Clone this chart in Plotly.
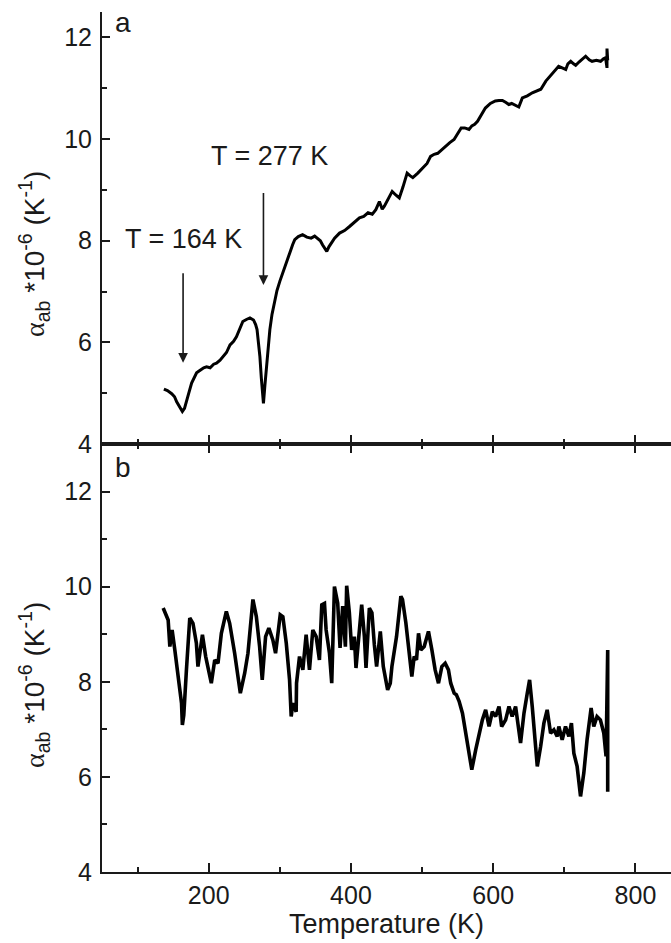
import plotly.graph_objects as go

# ---- data ----
top_T = [137,142,148,152,155,159,163,166,169,172,176,179,183,188,193,197,202,207,211,216,
         220,225,230,235,239,244,248,253,258,263,266,268,270,272,274,276,277,279,281,283,
         286,289,293,296,300,304,307,311,314,318,321,326,332,338,344,349,353,357,360,363,
         366,369,372,377,384,391,398,405,412,418,424,430,435,440,444,447,452,458,463,468,
         473,479,483,487,494,501,507,512,517,522,528,533,539,545,550,555,560,566,570,574,
         578,584,589,596,603,608,613,618,622,626,629,633,636,641,648,655,661,667,674,679,
         683,688,692,697,702,705,709,713,716,721,726,730,735,739,745,751,755,758,760,760,761]
top_a = [5.08,5.05,4.99,4.93,4.83,4.72,4.64,4.70,4.83,5.00,5.20,5.30,5.40,5.45,5.50,5.52,5.50,5.57,5.59,5.65,
         5.72,5.80,5.95,6.02,6.11,6.28,6.41,6.45,6.48,6.44,6.35,6.25,6.02,5.72,5.30,4.87,4.80,5.15,5.46,5.85,
         6.25,6.55,6.84,7.02,7.20,7.35,7.46,7.62,7.76,7.92,8.02,8.08,8.12,8.07,8.05,8.09,8.05,8.00,7.92,7.85,
         7.79,7.88,7.95,8.05,8.15,8.20,8.28,8.36,8.45,8.48,8.55,8.52,8.61,8.77,8.62,8.68,8.80,8.97,8.90,8.84,
         9.05,9.33,9.28,9.24,9.33,9.43,9.52,9.66,9.70,9.72,9.80,9.86,9.93,9.99,10.10,10.22,10.22,10.19,10.26,10.29,
         10.35,10.48,10.61,10.70,10.75,10.76,10.76,10.72,10.68,10.70,10.68,10.65,10.63,10.81,10.85,10.91,10.95,10.98,11.14,11.22,
         11.30,11.38,11.43,11.40,11.37,11.48,11.53,11.48,11.45,11.52,11.58,11.63,11.56,11.53,11.55,11.53,11.58,11.60,11.40,11.78,11.55]

bot_T = [136,140.7,143,145.4,148.6,152.4,157,161.8,163,165,168.7,173.4,177.9,182.7,184.9,188,191.2,195.8,201.5,203.7,
         208.5,213.1,217.8,224.8,229.5,236.5,244.5,250.6,255.2,262.2,267,271.6,275.3,280,284.6,290.2,294,300.6,304.3,309.1,
         313.7,316,318.3,323,323.5,327.7,332.4,337,341.7,346.4,351.1,355.7,359,362.8,365.1,369.8,373,376.8,381.4,384.7,
         388.4,392.2,394,397.8,401,404.8,407.1,410.9,415.1,418.9,421.2,425.9,429.5,432.9,436.1,441.3,445.5,451.6,455.3,457.6,
         464.1,470.2,472.5,477.2,481.8,485.6,488.9,492.2,495,498.3,503,509,513.8,518.4,523.1,527.8,532.5,537.1,540.3,545.1,
         548.2,552.1,556.8,561.5,566.1,569.9,575.4,580.1,584.8,589.4,594.2,598.8,603.4,608.2,611.9,617.5,622.2,626.7,631.5,638.5,
         643.3,647.9,651.2,654.9,659.7,662,666.7,671.3,675.9,680.7,685.3,690,692.3,697,701.7,706.4,710,713.4,718,722.8,
         727.4,732,737.7,741.4,746,750.7,755.5,758.7,761,761]
bot_a = [9.55,9.41,9.30,8.74,9.09,8.67,8.18,7.55,7.09,7.30,8.25,9.34,9.23,8.81,8.32,8.70,8.99,8.53,8.18,7.97,
         8.46,8.39,9.02,9.48,9.23,8.60,7.76,8.18,8.60,9.73,9.37,8.74,8.04,8.95,9.13,8.88,8.60,9.41,9.37,8.81,
         8.04,7.27,7.55,7.37,7.97,8.53,8.25,8.99,8.25,9.09,8.95,8.46,9.62,9.65,9.09,8.60,7.97,10.0,9.65,8.71,
         9.59,8.74,10.02,9.45,8.67,8.95,8.29,8.95,9.62,8.95,8.29,9.55,9.45,8.78,8.32,9.06,8.32,7.83,7.97,8.32,
         8.95,9.80,9.73,9.24,8.60,8.11,8.53,8.46,9.02,8.67,8.74,9.06,8.67,8.25,7.97,8.32,8.39,8.25,7.97,7.76,
         7.73,7.59,7.34,6.92,6.50,6.15,6.57,6.92,7.20,7.41,7.06,7.37,7.27,7.48,7.06,7.20,7.48,7.27,7.48,6.71,
         7.34,7.76,8.04,7.48,6.57,6.22,6.64,7.13,7.41,6.92,6.99,6.85,7.06,6.78,7.06,6.85,7.13,6.50,6.22,5.59,
         6.08,6.78,7.45,7.06,7.27,7.20,6.92,6.43,8.67,5.69]

mark_T = [164, 277]
mark_labels = ["T = 164 K", "T = 277 K"]
mark_text_pos = [(164, 8.04), (285, 9.66)]
mark_arrow = [(7.39, 5.60), (8.97, 7.13)]

x_range = [50, 850]
top_y_range = [4, 12.5]
bot_y_range = [4, 13]
x_ticks = [200, 400, 600, 800]
y_ticks = [4, 6, 8, 10, 12]

FONT = "Liberation Sans, Arial, sans-serif"
INK = "#1a1a1a"
FS = 25

W, H = 671, 943
ML, MR, MT, MB = 102, 0, 12, 71
PH = H - MT - MB

fig = go.Figure()
fig.add_trace(go.Scatter(x=top_T, y=top_a, mode="lines", line=dict(color="black", width=3),
                         xaxis="x", yaxis="y", showlegend=False))
fig.add_trace(go.Scatter(x=bot_T, y=bot_a, mode="lines", line=dict(color="black", width=3.6),
                         xaxis="x2", yaxis="y2", showlegend=False))

split = 428 / PH

common_x = dict(range=x_range, tickvals=x_ticks, ticks="inside", ticklen=9, tickwidth=2,
                tickcolor=INK, showline=True, linewidth=2, linecolor=INK, showgrid=False,
                zeroline=False, automargin=False,
                minor=dict(dtick=100, tick0=0, ticks="inside", ticklen=5,
                           tickwidth=2, tickcolor=INK))
common_y = dict(tickvals=y_ticks, ticks="inside", ticklen=8, tickwidth=2, tickcolor=INK,
                showline=True, linewidth=2, linecolor=INK, showgrid=False, zeroline=False,
                automargin=False, ticklabelstandoff=3,
                minor=dict(dtick=1, tick0=0, ticks="inside", ticklen=5, tickwidth=2, tickcolor=INK),
                tickfont=dict(family=FONT, size=FS, color=INK))

fig.update_layout(
    width=W, height=H, autosize=False,
    margin=dict(l=ML, r=MR, t=MT, b=MB, pad=0),
    paper_bgcolor="white", plot_bgcolor="white",
    xaxis=dict(anchor="y", domain=[0, 1], showticklabels=False, **common_x),
    yaxis=dict(anchor="x", domain=[split, 1], range=top_y_range, **common_y),
    xaxis2=dict(anchor="y2", domain=[0, 1], mirror="ticks",
                tickfont=dict(family=FONT, size=FS, color=INK),
                title=dict(text="Temperature (K)", font=dict(family=FONT, size=27, color=INK), standoff=2),
                **common_x),
    yaxis2=dict(anchor="x2", domain=[0, split], range=bot_y_range, **common_y),
)

def px_to_paper_y(py):
    return 1 - (py - MT) / PH

def px_to_paper_x(px):
    return (px - ML) / (W - ML - MR)

ytitle = ('<span style="font-family:Liberation Serif">α</span><sub>ab</sub> *10<sup>-6</sup> (K<sup>-1</sup>)')
for yc in [px_to_paper_y(254), px_to_paper_y(685)]:
    fig.add_annotation(text=ytitle, textangle=-90, xref="paper", yref="paper",
                       x=px_to_paper_x(34), y=yc, xanchor="center", yanchor="middle", showarrow=False,
                       font=dict(family=FONT, size=28, color=INK))

# panel letters
fig.add_annotation(text="a", xref="paper", yref="paper", x=px_to_paper_x(113), y=px_to_paper_y(22),
                   xanchor="left", yanchor="middle", showarrow=False,
                   font=dict(family=FONT, size=28, color=INK))
fig.add_annotation(text="b", xref="paper", yref="paper", x=px_to_paper_x(113), y=px_to_paper_y(468),
                   xanchor="left", yanchor="middle", showarrow=False,
                   font=dict(family=FONT, size=28, color=INK))

for t, lab, (tx, ty), (a0, a1) in zip(mark_T, mark_labels, mark_text_pos, mark_arrow):
    fig.add_annotation(text=lab, x=tx, y=ty, xref="x", yref="y", showarrow=False,
                       xanchor="center", yanchor="middle", font=dict(family=FONT, size=27, color=INK))
    fig.add_annotation(text="", x=t, y=a1, ax=t, ay=a0, xref="x", yref="y", axref="x", ayref="y",
                       showarrow=True, arrowhead=2, arrowsize=1.2, arrowwidth=1.6, arrowcolor=INK)

fig.write_html("out.html", config={"displayModeBar": False},
               post_script="document.body.style.margin='0';document.body.style.overflow='hidden';")
